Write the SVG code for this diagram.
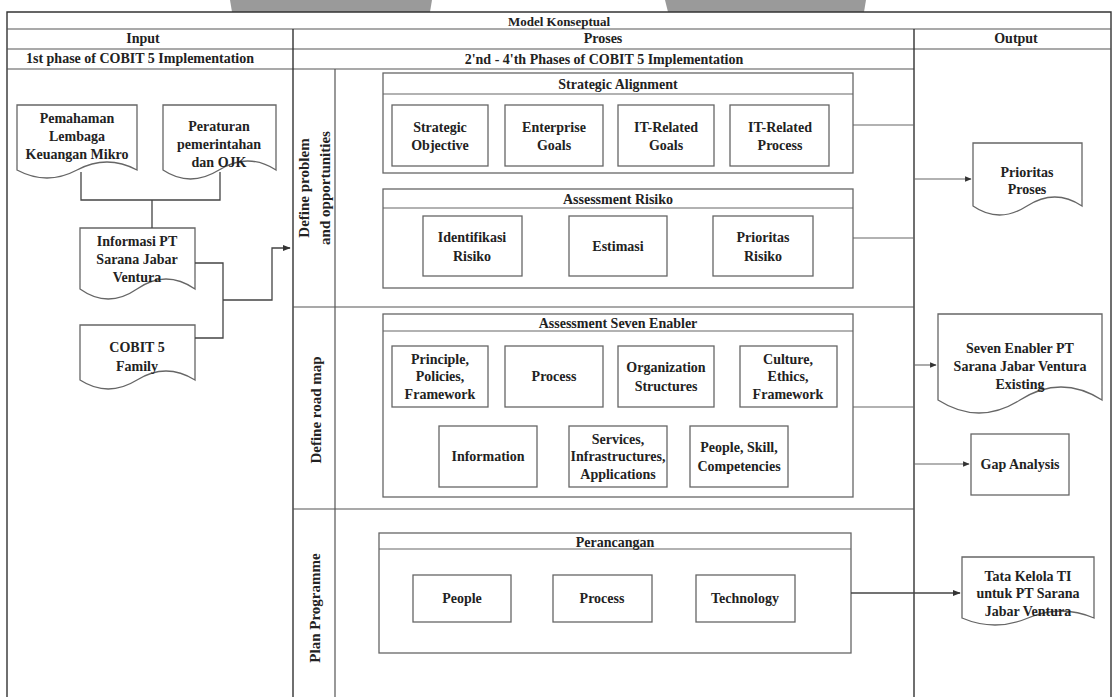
<svg xmlns="http://www.w3.org/2000/svg" width="1115" height="697" viewBox="0 0 1115 697">
<style>
text{font-family:"Liberation Serif","Times New Roman",serif;font-weight:bold;font-size:14px;fill:#222;text-anchor:middle}
.hd{font-size:14px}
.tt{font-size:13px}
.ln{font-size:15px}
.frame{stroke:#333;stroke-width:1.4;fill:none}
.lane{stroke:#555;stroke-width:1.2;fill:none}
.box{stroke:#666;stroke-width:1.3;fill:#fff}
.doc{stroke:#666;stroke-width:1.3;fill:#fff}
.con{stroke:#444;stroke-width:1.3;fill:none}
.conl{stroke:#666;stroke-width:1.1;fill:none}
</style>
<defs>
<marker id="ah" viewBox="0 0 10 10" refX="9" refY="5" markerWidth="6" markerHeight="6" orient="auto"><path d="M0,1 L10,5 L0,9 Z" fill="#333"/></marker>
</defs>
<rect width="1115" height="697" fill="#fff"/>
<polygon points="230,0 432,0 430,12 232,12" fill="#9a9a9a"/>
<polygon points="665,0 866,0 864,12 668,12" fill="#9a9a9a"/>

<g id="frame">
<path class="frame" d="M7,697 V12 H1111 V697"/>
<path class="lane" d="M7,29 H1111 M7,49 H1111 M7,69 H914"/>
<path class="frame" d="M293,29 V697 M914,29 V697"/>
<path class="lane" d="M335,69 V697 M293,307 H914 M293,509 H914"/>
<text class="tt" x="559" y="26">Model Konseptual</text>
<text class="hd" x="143" y="43">Input</text>
<text class="hd" x="603" y="43">Proses</text>
<text class="hd" x="1016" y="43">Output</text>
<text class="hd" x="140" y="63">1st phase of COBIT 5 Implementation</text>
<text class="hd" x="604" y="64">2'nd - 4'th Phases of COBIT 5 Implementation</text>
<text class="ln" transform="translate(309,188) rotate(-90)">Define problem</text>
<text class="ln" transform="translate(330,188) rotate(-90)">and opportunities</text>
<text class="ln" transform="translate(321,410) rotate(-90)">Define road map</text>
<text class="ln" transform="translate(320,608) rotate(-90)">Plan Programme</text>
</g>

<g id="pemahaman">
<path class="doc" d="M17,105 H137 V170 Q107,154 77,170 T17,170 Z"/>
<text x="77" y="123">Pemahaman</text>
<text x="77" y="141">Lembaga</text>
<text x="77" y="159">Keuangan Mikro</text>
</g>
<g id="peraturan">
<path class="doc" d="M163,105 H276 V170 Q248,152 219,170 T163,170 Z"/>
<text x="219" y="131">Peraturan</text>
<text x="219" y="149">pemerintahan</text>
<text x="219" y="167">dan OJK</text>
</g>
<g id="informasi">
<path class="doc" d="M80,228 H195 V289 Q166,269 137,289 T80,289 Z"/>
<text x="137" y="246">Informasi PT</text>
<text x="137" y="264">Sarana Jabar</text>
<text x="137" y="282">Ventura</text>
</g>
<g id="cobit">
<path class="doc" d="M80,325 H195 V380 Q166,362 137,380 T80,380 Z"/>
<text x="137" y="352">COBIT 5</text>
<text x="137" y="371">Family</text>
</g>

<g id="strategic-alignment">
<rect class="box" x="383" y="73" width="470" height="100"/>
<line class="conl" x1="383" y1="94" x2="853" y2="94"/>
<text x="618" y="89">Strategic Alignment</text>
</g>
<g id="strategic-objective"><rect class="box" x="392" y="105" width="96" height="61"/><text x="440" y="132">Strategic</text><text x="440" y="150">Objective</text></g>
<g id="enterprise-goals"><rect class="box" x="505" y="105" width="98" height="61"/><text x="554" y="132">Enterprise</text><text x="554" y="150">Goals</text></g>
<g id="it-goals"><rect class="box" x="618" y="105" width="96" height="61"/><text x="666" y="132">IT-Related</text><text x="666" y="150">Goals</text></g>
<g id="it-process"><rect class="box" x="730" y="105" width="99" height="61"/><text x="780" y="132">IT-Related</text><text x="780" y="150">Process</text></g>

<g id="assessment-risiko">
<rect class="box" x="383" y="189" width="470" height="99"/>
<line class="conl" x1="383" y1="208" x2="853" y2="208"/>
<text x="618" y="204">Assessment Risiko</text>
</g>
<g id="identifikasi"><rect class="box" x="423" y="216" width="99" height="60"/><text x="472" y="242">Identifikasi</text><text x="472" y="261">Risiko</text></g>
<g id="estimasi"><rect class="box" x="569" y="216" width="98" height="60"/><text x="618" y="251">Estimasi</text></g>
<g id="prioritas-risiko"><rect class="box" x="713" y="216" width="100" height="60"/><text x="763" y="242">Prioritas</text><text x="763" y="261">Risiko</text></g>

<g id="prioritas-proses">
<path class="doc" d="M973,143 H1082 V206 Q1055,188 1027,206 T973,206 Z"/>
<text x="1027" y="177">Prioritas</text>
<text x="1027" y="194">Proses</text>
</g>

<g id="seven-enabler">
<rect class="box" x="383" y="314" width="470" height="183"/>
<line class="conl" x1="383" y1="331" x2="853" y2="331"/>
<text x="618" y="328">Assessment Seven Enabler</text>
</g>
<g id="principle"><rect class="box" x="392" y="346" width="96" height="61"/><text x="440" y="364">Principle,</text><text x="440" y="381">Policies,</text><text x="440" y="399">Framework</text></g>
<g id="process7"><rect class="box" x="505" y="346" width="98" height="61"/><text x="554" y="381">Process</text></g>
<g id="organization"><rect class="box" x="618" y="346" width="96" height="61"/><text x="666" y="372">Organization</text><text x="666" y="391">Structures</text></g>
<g id="culture"><rect class="box" x="740" y="346" width="97" height="61"/><text x="788" y="364">Culture,</text><text x="788" y="381">Ethics,</text><text x="788" y="399">Framework</text></g>
<g id="information"><rect class="box" x="439" y="426" width="98" height="61"/><text x="488" y="461">Information</text></g>
<g id="services"><rect class="box" x="569" y="426" width="98" height="61"/><text x="618" y="444">Services,</text><text x="618" y="461">Infrastructures,</text><text x="618" y="479">Applications</text></g>
<g id="people-skill"><rect class="box" x="690" y="426" width="98" height="61"/><text x="739" y="452">People, Skill,</text><text x="739" y="471">Competencies</text></g>

<g id="seven-enabler-pt">
<path class="doc" d="M938,314 H1102 V400 Q1061,374 1020,400 T938,400 Z"/>
<text x="1020" y="353">Seven Enabler PT</text>
<text x="1020" y="371">Sarana Jabar Ventura</text>
<text x="1020" y="389">Existing</text>
</g>
<g id="gap-analysis"><rect class="box" x="971" y="434" width="98" height="61"/><text x="1020" y="469">Gap Analysis</text></g>

<g id="perancangan">
<rect class="box" x="379" y="533" width="472" height="120"/>
<line class="conl" x1="379" y1="549" x2="851" y2="549"/>
<text x="615" y="547">Perancangan</text>
</g>
<g id="people"><rect class="box" x="413" y="575" width="98" height="47"/><text x="462" y="603">People</text></g>
<g id="process3"><rect class="box" x="553" y="575" width="99" height="47"/><text x="602" y="603">Process</text></g>
<g id="technology"><rect class="box" x="696" y="575" width="99" height="47"/><text x="745" y="603">Technology</text></g>

<g id="tata-kelola">
<path class="doc" d="M962,557 H1094 V618 Q1061,604 1028,618 T962,618 Z"/>
<text x="1028" y="581">Tata Kelola TI</text>
<text x="1028" y="598">untuk PT Sarana</text>
<text x="1028" y="616">Jabar Ventura</text>
</g>

<g id="connectors">
<path class="con" d="M81,172 V200 H220 V172 M152,200 V228"/>
<path class="con" d="M195,263 H223 V338 H195 M223,300 H272 V248 H290" marker-end="url(#ah)"/>
<path class="conl" d="M853,125 H914 M853,238 H914 M853,407 H914"/>
<path class="conl" d="M914,179 H971" marker-end="url(#ah)"/>
<path class="conl" d="M914,365 H936" marker-end="url(#ah)"/>
<path class="conl" d="M914,464 H969" marker-end="url(#ah)"/>
<path class="con" d="M851,593 H960" marker-end="url(#ah)"/>
</g>
</svg>
